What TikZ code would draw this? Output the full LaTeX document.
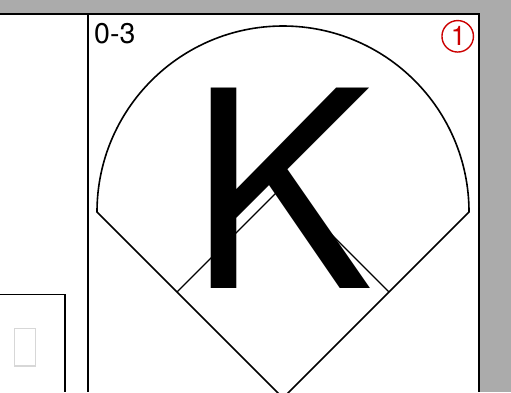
\documentclass[tikz,border=0pt]{standalone}
\usepackage{fontspec}
\setmainfont{TeX Gyre Heros}
\definecolor{bggray}{RGB}{171,171,171}
\definecolor{markred}{RGB}{204,0,0}
\definecolor{tofugray}{RGB}{215,215,215}
\tikzset{
  frame/.style={line width=1.5pt, black},
  field/.style={line width=1.6pt, black, line join=miter},
  infield/.style={line width=1.3pt, black},
}
\begin{document}
\begin{tikzpicture}[x=1pt,y=-1pt]
\useasboundingbox (0,0) rectangle (511,392);
\fill[bggray] (0,0) rectangle (511,392);
\fill[white] (0,14) rectangle (479,392);
% frames
\coordinate (tl) at (0,14);
\coordinate (tr) at (479,14);
\coordinate (br) at (479,392);
\coordinate (dt) at (88,14);
\coordinate (db) at (88,392);
\coordinate (b1) at (0,294.5);
\coordinate (b2) at (65,294.5);
\coordinate (b3) at (65,392);
\draw[frame] (tl) -- (tr) -- (br);
\draw[frame] (dt) -- (db);
\draw[frame] (b1) -- (b2) -- (b3);
\node[draw=tofugray, line width=1.5pt, minimum width=21pt, minimum height=37.5pt, inner sep=0] (tofu) at (25,347) {};
% infield
\coordinate (first) at (389,292);
\coordinate (second) at (283,186);
\coordinate (third) at (177,292);
\draw[infield] (third) -- (second) -- (first);
% outfield
\coordinate (lf) at (97,212);
\coordinate (home) at (283,398);
\draw[field] (lf) arc[start angle=180, end angle=360, radius=186] -- (home) -- cycle;
% K
\node[anchor=base west, inner sep=0, font=\fontsize{275}{275}\selectfont] (K) at (188.8,288.3) {K};
% count
\node[anchor=base west, inner sep=0, font=\fontsize{28.5}{28.5}\selectfont] (count) at (94,43.5) {0-3};
% circled 1
\node[circle, draw=markred, line width=1.4pt, minimum size=31.5pt, inner sep=0] (circ) at (457.7,36.3) {};
\node[anchor=base, inner sep=0, text=markred, font=\fontsize{27}{27}\selectfont] (one) at (458.3,45.3) {1};
\end{tikzpicture}
\end{document}
